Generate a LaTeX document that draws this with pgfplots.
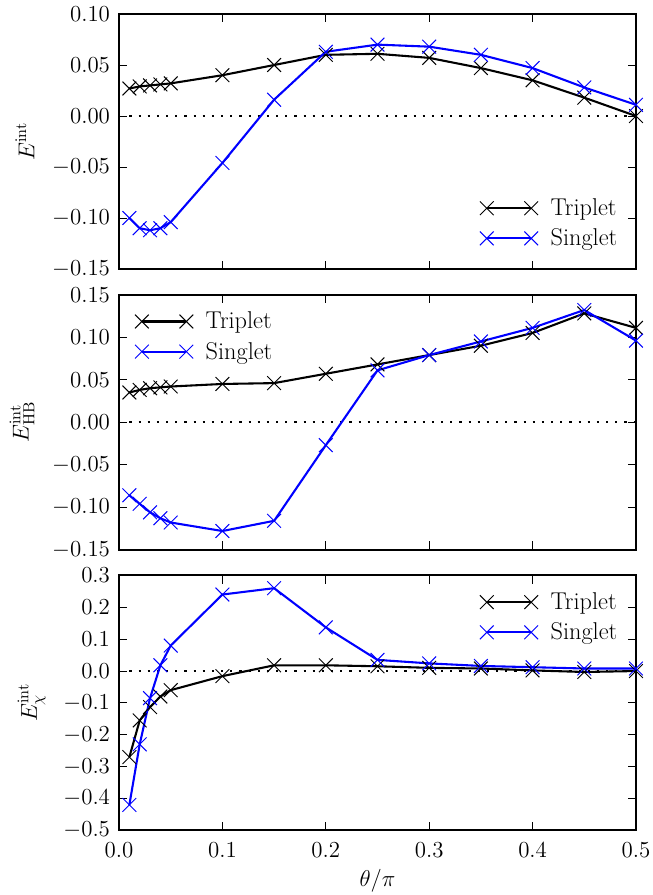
\RequirePackage{fix-cm}
\documentclass[border=0pt]{standalone}
\usepackage{pgfplots}
\pgfplotsset{compat=1.18}
\usepgfplotslibrary{groupplots}

\newcommand{\figfont}{\fontsize{16.5}{19}\selectfont}
\newcommand{\legfont}{\fontsize{17.5}{19}\selectfont}

\pgfplotsset{
  panel/.style={
    width=372.2pt, height=183.6pt, scale only axis,
    xmin=0, xmax=0.5,
    xtick={0,0.1,0.2,0.3,0.4,0.5},
    tick align=inside,
    major tick length=6pt,
    minor tick num=0,
    tick style={black, line width=0.6pt},
    axis line style={line width=1.4pt},
    tick label style={font=\figfont},
    label style={font=\figfont},
    ylabel style={yshift=6pt},
    xlabel style={yshift=-2pt},
    xticklabel style={yshift=-5pt, /pgf/number format/.cd, fixed, fixed zerofill, precision=1},
    legend cell align=left,
    legend style={draw=none, fill=none, font=\legfont,
      row sep=4pt, inner sep=2pt,
      /tikz/every odd column/.append style={column sep=7pt}},
    legend image code/.code={%
      \draw[mark repeat=1, mark phase=1, #1] plot coordinates {(0pt,0pt) (32pt,0pt)};},
  },
  trip/.style={black, line width=1.5pt, mark=x, mark size=7pt,
    mark options={line width=0.7pt, solid}},
  sing/.style={blue, line width=1.5pt, mark=x, mark size=7pt,
    mark options={line width=0.7pt, solid}},
  zero/.style={black, line width=1.6pt, dash pattern=on 1.6pt off 5pt, forget plot},
}

\begin{document}
\begin{tikzpicture}[font=\figfont]
\begin{groupplot}[
  group style={group size=1 by 3, vertical sep=18.5pt, xticklabels at=edge bottom},
  panel,
]
% panel 1: E^int
\nextgroupplot[
  ymin=-0.15, ymax=0.10,
  ytick={-0.15,-0.10,-0.05,0,0.05,0.10},
  yticklabel style={xshift=-3pt, /pgf/number format/.cd, fixed, fixed zerofill, precision=2},
  ylabel={$E^{\mathrm{int}}$},
  legend style={at={(0.975,0.06)}, anchor=south east},
]
\addplot[zero] coordinates {(0.01,0) (0.5,0)};
\addplot[trip] coordinates {
  (0.01,0.027) (0.02,0.029) (0.03,0.030) (0.04,0.031) (0.05,0.032)
  (0.10,0.040) (0.15,0.050) (0.20,0.060) (0.25,0.061) (0.30,0.057)
  (0.35,0.047) (0.40,0.035) (0.45,0.018) (0.50,0.000)
};
\addlegendentry{Triplet}
\addplot[sing] coordinates {
  (0.01,-0.100) (0.02,-0.110) (0.03,-0.112) (0.04,-0.110) (0.05,-0.104)
  (0.10,-0.046) (0.15,0.016) (0.20,0.063) (0.25,0.070) (0.30,0.068)
  (0.35,0.060) (0.40,0.047) (0.45,0.028) (0.50,0.011)
};
\addlegendentry{Singlet}

% panel 2: E^int_HB
\nextgroupplot[
  ymin=-0.15, ymax=0.15,
  ytick={-0.15,-0.10,-0.05,0,0.05,0.10,0.15},
  yticklabel style={xshift=-3pt, /pgf/number format/.cd, fixed, fixed zerofill, precision=2},
  ylabel={$E^{\mathrm{int}}_{\mathrm{HB}}$},
  legend style={at={(0.025,0.955)}, anchor=north west},
]
\addplot[zero] coordinates {(0.01,0) (0.5,0)};
\addplot[trip] coordinates {
  (0.01,0.035) (0.02,0.038) (0.03,0.040) (0.04,0.041) (0.05,0.042)
  (0.10,0.045) (0.15,0.046) (0.20,0.057) (0.25,0.068) (0.30,0.079)
  (0.35,0.090) (0.40,0.105) (0.45,0.128) (0.50,0.111)
};
\addlegendentry{Triplet}
\addplot[sing] coordinates {
  (0.01,-0.086) (0.02,-0.096) (0.03,-0.106) (0.04,-0.113) (0.05,-0.118)
  (0.10,-0.128) (0.15,-0.116) (0.20,-0.027) (0.25,0.061) (0.30,0.079)
  (0.35,0.095) (0.40,0.111) (0.45,0.132) (0.50,0.096)
};
\addlegendentry{Singlet}

% panel 3: E^int_chi
\nextgroupplot[
  ymin=-0.5, ymax=0.3,
  ytick={-0.5,-0.4,-0.3,-0.2,-0.1,0,0.1,0.2,0.3},
  yticklabel style={xshift=-3pt, /pgf/number format/.cd, fixed, fixed zerofill, precision=1},
  ylabel={$E^{\mathrm{int}}_{\chi}$},
  xlabel={$\theta/\pi$},
  legend style={at={(0.975,0.955)}, anchor=north east},
]
\addplot[zero] coordinates {(0.01,0) (0.5,0)};
\addplot[trip] coordinates {
  (0.01,-0.270) (0.02,-0.155) (0.03,-0.113) (0.04,-0.080) (0.05,-0.060)
  (0.10,-0.016) (0.15,0.018) (0.20,0.018) (0.25,0.015) (0.30,0.010)
  (0.35,0.008) (0.40,0.002) (0.45,-0.003) (0.50,0.000)
};
\addlegendentry{Triplet}
\addplot[sing] coordinates {
  (0.01,-0.420) (0.02,-0.230) (0.03,-0.085) (0.04,0.018) (0.05,0.080)
  (0.10,0.240) (0.15,0.260) (0.20,0.137) (0.25,0.035) (0.30,0.024)
  (0.35,0.016) (0.40,0.012) (0.45,0.008) (0.50,0.008)
};
\addlegendentry{Singlet}
\end{groupplot}
\pgfresetboundingbox
\path[use as bounding box]
  ([shift={(-85.7pt,10.1pt)}]group c1r1.north west) rectangle
  ([shift={(383.8pt,-634.3pt)}]group c1r1.north west);
\end{tikzpicture}
\end{document}
